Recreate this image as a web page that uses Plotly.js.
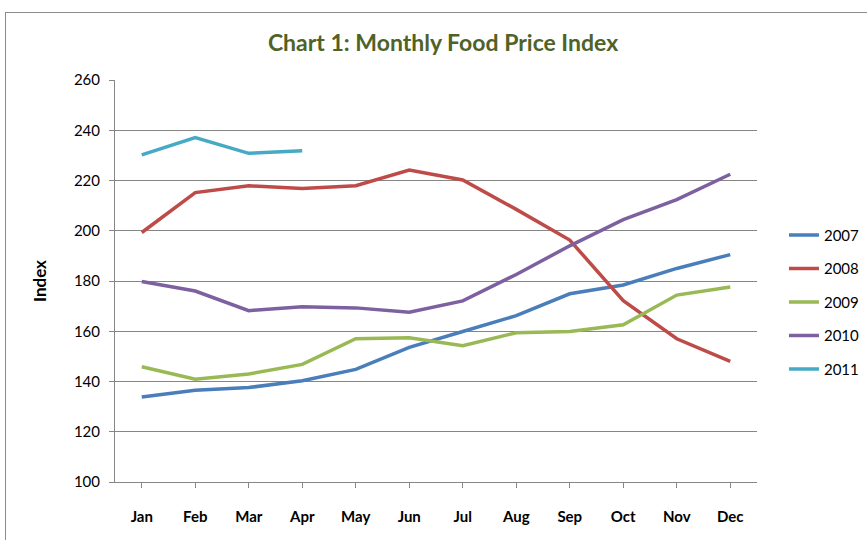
<!DOCTYPE html>
<html>
<head>
<meta charset="utf-8">
<script src="https://cdn.plot.ly/plotly-3.0.1.min.js"></script>
<style>
  html, body { margin: 0; padding: 0; background: #fff; overflow: hidden; }
  #chart { width: 867px; height: 540px; position: absolute; left: 0; top: 0; }
  #frame { position: absolute; left: 5px; top: 12px; width: 900px; height: 600px; border: 1px solid #8c8c8c; pointer-events: none; }
</style>
</head>
<body>
<div id="chart"></div>
<div id="frame"></div>
<script>
const months = ["Jan","Feb","Mar","Apr","May","Jun","Jul","Aug","Sep","Oct","Nov","Dec"];
const yearNames = ["2007","2008","2009","2010","2011"];
const v2007 = [133.8, 136.5, 137.6, 140.3, 144.8, 153.6, 159.9, 166.2, 174.9, 178.4, 185.0, 190.5];
const v2008 = [199.3, 215.2, 217.9, 216.8, 217.9, 224.2, 220.2, 208.5, 196.3, 172.2, 157.0, 148.0];
const v2009 = [145.9, 140.9, 143.0, 146.8, 157.0, 157.4, 154.2, 159.4, 159.9, 162.6, 174.4, 177.6];
const v2010 = [179.8, 176.0, 168.2, 169.8, 169.3, 167.6, 172.1, 182.6, 194.0, 204.4, 212.4, 222.5];
const v2011 = [230.2, 237.1, 230.8, 231.8];
const colors = ["#4A7EBB", "#BE4B48", "#98B954", "#7D60A0", "#46AAC5"];
const series = [v2007, v2008, v2009, v2010, v2011];

const traces = series.map((vals, i) => ({
  type: "scatter",
  mode: "lines",
  name: yearNames[i],
  x: months.slice(0, vals.length),
  y: vals,
  line: { color: colors[i], width: 3.5 },
  legendgroup: "g" + i
}));

const layout = {
  width: 867,
  height: 540,
  margin: { l: 115, r: 110, t: 80, b: 58, autoexpand: false },
  paper_bgcolor: "rgba(0,0,0,0)",
  plot_bgcolor: "#fff",
  font: { family: "Lato, 'Open Sans', sans-serif", color: "#000" },
  title: {
    text: "<b>Chart 1: Monthly Food Price Index</b>",
    font: { family: "Lato, sans-serif", size: 23, color: "#4F6228" },
    x: 0.511, xanchor: "center", y: 0.921, yanchor: "middle"
  },
  xaxis: {
    type: "category",
    categoryorder: "array",
    categoryarray: months,
    range: [-0.5, 11.5],
    showgrid: false,
    showline: true, linecolor: "#868686", linewidth: 1,
    ticks: "outside", ticklen: 5, tickcolor: "#868686",
    tickfont: { family: "Lato, sans-serif", size: 15, color: "#000", weight: "bold" },
    ticklabelstandoff: 16,
    zeroline: false, fixedrange: true
  },
  yaxis: {
    range: [100, 260],
    dtick: 20,
    showgrid: true, gridcolor: "#868686", gridwidth: 1,
    showline: true, linecolor: "#868686", linewidth: 1,
    ticks: "outside", ticklen: 5, tickcolor: "#868686",
    tickfont: { family: "Lato, sans-serif", size: 15, color: "#000" },
    ticklabelstandoff: 6,
    zeroline: false, fixedrange: true,
    title: { text: "<b>Index</b>", font: { family: "Lato, sans-serif", size: 17, color: "#000" }, standoff: 22 }
  },
  legend: {
    x: 1.042, xanchor: "left", y: 0.655, yanchor: "top",
    font: { family: "Lato, sans-serif", size: 15, color: "#000" },
    traceorder: "grouped",
    tracegroupgap: 11,
    itemwidth: 30,
    bgcolor: "rgba(0,0,0,0)"
  },
  showlegend: true
};

Plotly.newPlot("chart", traces, layout, { staticPlot: true, displayModeBar: false });
</script>
</body>
</html>
